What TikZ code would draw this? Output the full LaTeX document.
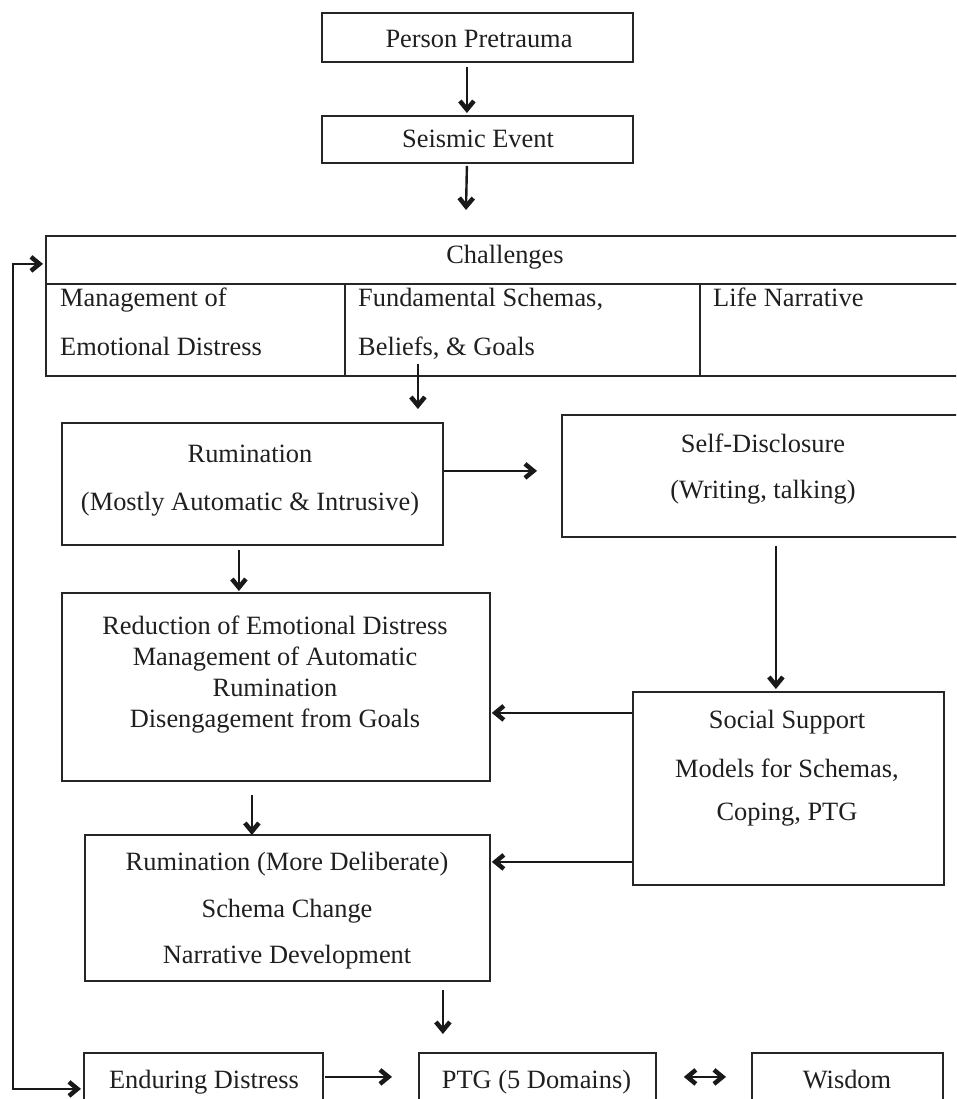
\documentclass[tikz,border=0pt]{standalone}
\usepackage{fontspec}
\setmainfont{Liberation Serif}
\usetikzlibrary{arrows.meta,calc}
\begin{document}
\begin{tikzpicture}[x=1pt,y=-1pt,
  box/.style={draw=black!85, line width=1.8pt, inner sep=0pt, anchor=north west},
  lbl/.style={anchor=base, inner sep=0pt, text=black!88, font=\fontsize{26.4}{30}\selectfont},
  lblw/.style={lbl, anchor=base west},
  >={Straight Barb[length=8.5pt,width=14pt,line width=4.5pt]},
  arr/.style={line width=2.4pt, draw=black!90, ->},
  darr/.style={line width=2.4pt, draw=black!90, <->}]
\useasboundingbox (0,0) rectangle (956,1099);
\clip (0,0) rectangle (956,1099);
% boxes
\node[box, minimum width=311pt, minimum height=49pt] (pre) at (321,12) {};
\node[box, minimum width=311pt, minimum height=47pt] (seis) at (321,115) {};
\node[box, minimum width=960pt, minimum height=48pt] (chalh) at (45,235) {};
\node[box, minimum width=299pt, minimum height=92pt] (c1) at (45,283) {};
\node[box, minimum width=355pt, minimum height=92pt] (c2) at (344,283) {};
\node[box, minimum width=320pt, minimum height=92pt] (c3) at (699,283) {};
\node[box, minimum width=381pt, minimum height=122pt] (rum1) at (61,422) {};
\node[box, minimum width=450pt, minimum height=122pt] (self) at (561,414) {};
\node[box, minimum width=428pt, minimum height=188pt] (red) at (61,592) {};
\node[box, minimum width=311pt, minimum height=193pt] (soc) at (632,691) {};
\node[box, minimum width=405pt, minimum height=146pt] (rum2) at (84,834) {};
\node[box, minimum width=239pt, minimum height=56pt] (ed) at (83,1052) {};
\node[box, minimum width=237pt, minimum height=56pt] (ptg) at (418,1052) {};
\node[box, minimum width=191pt, minimum height=56pt] (wis) at (751,1052) {};
% texts
\node[lbl] (tpre) at (479,48) {Person Pretrauma};
\node[lbl] (tseis) at (478,148) {Seismic Event};
\node[lbl] (tchal) at (505,263) {Challenges};
\node[lblw] (tc1a) at (60,306) {Management of};
\node[lblw] (tc1b) at (60,355) {Emotional Distress};
\node[lblw] (tc2a) at (358,306) {Fundamental Schemas,};
\node[lblw] (tc2b) at (358,355) {Beliefs, \& Goals};
\node[lblw] (tc3) at (713,306) {Life Narrative};
\node[lbl] (tr1a) at (250,462) {Rumination};
\node[lbl] (tr1b) at (250,510) {(Mostly Automatic \& Intrusive)};
\node[lbl] (ts1) at (763,452) {Self-Disclosure};
\node[lbl] (ts2) at (763,498) {(Writing, talking)};
\node[lbl] (tred1) at (275,634) {Reduction of Emotional Distress};
\node[lbl] (tred2) at (275,665) {Management of Automatic};
\node[lbl] (tred3) at (275,696) {Rumination};
\node[lbl] (tred4) at (275,727) {Disengagement from Goals};
\node[lbl] (tsoc1) at (787,728) {Social Support};
\node[lbl] (tsoc2) at (787,777) {Models for Schemas,};
\node[lbl] (tsoc3) at (787,820) {Coping, PTG};
\node[lbl] (tr2a) at (287,870) {Rumination (More Deliberate)};
\node[lbl] (tr2b) at (287,917) {Schema Change};
\node[lbl] (tr2c) at (287,963) {Narrative Development};
\node[lbl] (ted) at (204,1088) {Enduring Distress};
\node[lbl] (tptg) at (536.5,1088) {PTG (5 Domains)};
\node[lbl] (twis) at (847,1088) {Wisdom};
% connectors
\coordinate (e1) at (466,210);
\draw[arr] ($(pre.south)+(-10.5,4)$) -- ($(seis.north)+(-10.5,-2)$);
\draw[arr] ($(seis.south)+(-10.5,2)$) -- (e1);
\draw[arr, line width=1.8pt] ($(c2.south)+(-104.5,-13)$) -- ($(rum1.north)+(165.5,-13)$);
\draw[arr] ($(rum1.east)+(0,-13)$) -- ($(self.west)+(-24,-5)$);
\draw[arr] ($(rum1.south)+(-13.5,4)$) -- ($(red.north)+(-37,-1)$);
\draw[arr] ($(self.south)+(-11,8)$) -- ($(soc.north)+(-12.5,-2)$);
\draw[arr] ($(soc.west)+(0,-75.5)$) -- ($(red.east)+(1,26)$);
\draw[arr] ($(soc.west)+(0,73.5)$) -- ($(rum2.east)+(1,-46)$);
\draw[arr] ($(red.south)+(-24,13)$) -- ($(rum2.north)+(-35.5,1)$);
\draw[arr] ($(rum2.south)+(155.5,8)$) -- ($(ptg.north)+(-94.5,-18)$);
\draw[arr] ($(ed.east)+(1,-4)$) -- ($(ptg.west)+(-26,-4)$);
\draw[darr] ($(ptg.east)+(27,-4)$) -- ($(wis.west)+(-25,-4)$);
\draw[darr] ($(chalh.west)+(-2,4)$) -- ++(-30,0) |- ($(ed.west)+(-2,8)$);
\end{tikzpicture}
\end{document}
